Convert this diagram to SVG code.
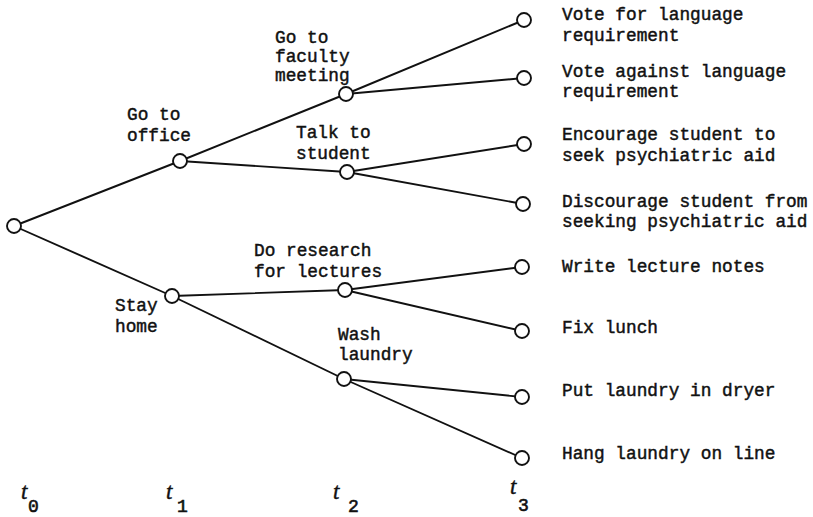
<svg xmlns="http://www.w3.org/2000/svg" width="813" height="517" viewBox="0 0 813 517">
<style>
.e{stroke:#111;stroke-width:1.9;fill:none;stroke-linecap:round}
.n{fill:#fff;stroke:#111;stroke-width:1.9}
.l{font-family:"Liberation Mono","Courier New",monospace;font-size:17.8px;fill:#111;stroke:#111;stroke-width:0.45}
.t{font-family:"Liberation Serif","Times New Roman",serif;font-style:italic;font-size:23px;fill:#111;stroke:#111;stroke-width:0.4}
.s{font-family:"Liberation Mono","Courier New",monospace;font-size:18px;fill:#111;stroke:#111;stroke-width:0.6}
</style>
<rect width="813" height="517" fill="#fff"/>
<g id="connectors">
<line class="e" x1="14" y1="226" x2="180" y2="161"/>
<line class="e" x1="14" y1="226" x2="172" y2="296"/>
<line class="e" x1="180" y1="161" x2="346" y2="94"/>
<line class="e" x1="180" y1="161" x2="347" y2="172"/>
<line class="e" x1="346" y1="94" x2="524" y2="20"/>
<line class="e" x1="346" y1="94" x2="524" y2="78"/>
<line class="e" x1="347" y1="172" x2="524" y2="144"/>
<line class="e" x1="347" y1="172" x2="523" y2="204"/>
<line class="e" x1="172" y1="296" x2="345" y2="290"/>
<line class="e" x1="172" y1="296" x2="344" y2="379"/>
<line class="e" x1="345" y1="290" x2="522" y2="267"/>
<line class="e" x1="345" y1="290" x2="522" y2="331"/>
<line class="e" x1="344" y1="379" x2="522" y2="397"/>
<line class="e" x1="344" y1="379" x2="522" y2="458"/>
</g>
<g id="root"><circle class="n" cx="14" cy="226" r="7"/></g>
<g id="office"><circle class="n" cx="180" cy="161" r="7"/><text class="l" x="127" y="120">Go to</text><text class="l" x="127" y="141">office</text></g>
<g id="stay"><circle class="n" cx="172" cy="296" r="7"/><text class="l" x="115" y="311">Stay</text><text class="l" x="115" y="332">home</text></g>
<g id="faculty"><circle class="n" cx="346" cy="94" r="7"/><text class="l" x="275" y="43">Go to</text><text class="l" x="275" y="62">faculty</text><text class="l" x="275" y="81">meeting</text></g>
<g id="talk"><circle class="n" cx="347" cy="172" r="7"/><text class="l" x="296" y="138">Talk to</text><text class="l" x="296" y="159">student</text></g>
<g id="research"><circle class="n" cx="345" cy="290" r="7"/><text class="l" x="254" y="256">Do research</text><text class="l" x="254" y="277">for lectures</text></g>
<g id="wash"><circle class="n" cx="344" cy="379" r="7"/><text class="l" x="338" y="340">Wash</text><text class="l" x="338" y="360">laundry</text></g>
<g id="votefor"><circle class="n" cx="524" cy="20" r="7"/><text class="l" x="562" y="20">Vote for language</text><text class="l" x="562" y="41">requirement</text></g>
<g id="voteagainst"><circle class="n" cx="524" cy="78" r="7"/><text class="l" x="562" y="77">Vote against language</text><text class="l" x="562" y="97">requirement</text></g>
<g id="encourage"><circle class="n" cx="524" cy="144" r="7"/><text class="l" x="562" y="140">Encourage student to</text><text class="l" x="562" y="161">seek psychiatric aid</text></g>
<g id="discourage"><circle class="n" cx="523" cy="204" r="7"/><text class="l" x="562" y="207">Discourage student from</text><text class="l" x="562" y="227">seeking psychiatric aid</text></g>
<g id="write"><circle class="n" cx="522" cy="267" r="7"/><text class="l" x="562" y="272">Write lecture notes</text></g>
<g id="fix"><circle class="n" cx="522" cy="331" r="7"/><text class="l" x="562" y="333">Fix lunch</text></g>
<g id="put"><circle class="n" cx="522" cy="397" r="7"/><text class="l" x="562" y="396">Put laundry in dryer</text></g>
<g id="hang"><circle class="n" cx="522" cy="458" r="7"/><text class="l" x="562" y="459">Hang laundry on line</text></g>
<g id="timeline">
<text class="t" x="21" y="499">t</text><text class="s" x="28" y="512">0</text>
<text class="t" x="166" y="499">t</text><text class="s" x="177" y="512">1</text>
<text class="t" x="333" y="499">t</text><text class="s" x="348" y="512">2</text>
<text class="t" x="510" y="494">t</text><text class="s" x="518" y="511">3</text>
</g>
</svg>
